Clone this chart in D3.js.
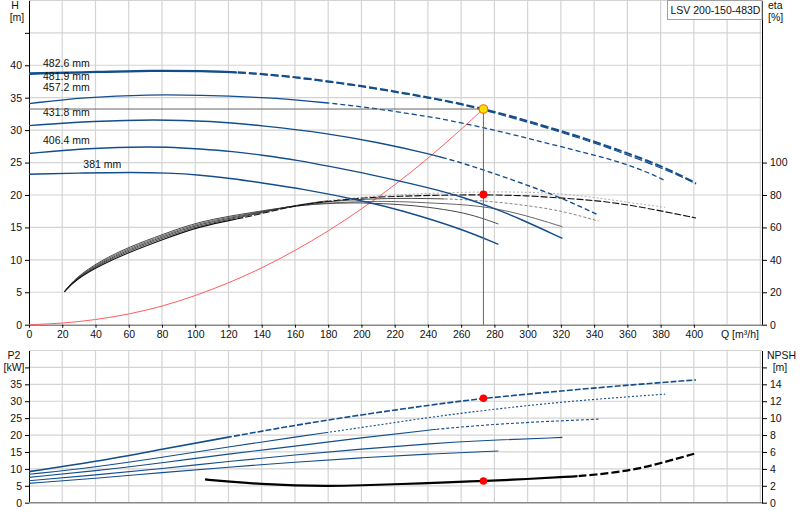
<!DOCTYPE html>
<html>
<head>
<meta charset="utf-8">
<script src="https://cdn.jsdelivr.net/npm/d3@7"></script>
<style>
body { margin: 0; background: #fff; }
text { font-family: "Liberation Sans", Arial, sans-serif; font-size: 10.5px; fill: #111; }
</style>
</head>
<body>
<div id="chart"></div>
<script>
// pump data (Q in m3/h)
var title = "LSV 200-150-483D";
var diameters = ["381 mm", "406.4 mm", "431.8 mm", "457.2 mm", "481.9 mm", "482.6 mm"];
var qTicks = d3.range(0, 401, 20);

// head H [m]
var head381 = [[0,23.2],[33,23.4],[63,23.5],[83,23.4],[103,23.1],[123,22.5],[139,21.9],[163,21.0],[203,19.0],[223,17.7],[259,14.9],[282.4,12.4]];
var head406 = [[0,26.4],[33,27.2],[63,27.4],[83,27.4],[103,27.1],[123,26.7],[139,26.2],[163,25.3],[181,24.4],[203,23.3],[243,21.0],[263,19.5],[277,18.2],[295,16.4],[320.9,13.3]];
var head431 = [[0,30.7],[40,31.4],[75,31.65],[110,31.4],[140,30.7],[180,29.5],[210,28.1],[240,26.4],[260,25.0],[280,23.3],[300,21.5],[320,19.6],[342.6,16.9]];
var head457 = [[0,34.1],[33,35.05],[73,35.5],[103,35.4],[139,35.05],[160,34.7],[180,34.2],[200,33.6],[220,32.9],[240,32.1],[253,31.5],[271.4,30.5],[291.4,29.3],[311.5,28.0],[331.5,26.7],[351.6,25.4],[371.7,23.6],[382.7,22.2]];
var head4819 = [[0,38.6],[43,38.9],[73,39.1],[103,39.05],[139,38.75],[193,37.1],[253,34.4],[273.4,33.15],[311.5,30.4],[351.6,27.1],[391.7,23.0],[401.3,21.7]];
var head482 = [[0,38.75],[43,39.0],[73,39.2],[103,39.15],[139,38.85],[193,37.2],[253,34.5],[273.4,33.25],[291.4,32.1],[311.5,30.5],[331.5,29.0],[351.6,27.2],[371.7,25.4],[391.7,23.1],[401.3,21.8]];

// efficiency eta [%]
var eta381 = [[21.3,20.3],[28,29],[43,39.5],[61,48.3],[80,55.5],[103,64],[133,69],[163,74],[190,75.2],[203,75.1],[223,74.2],[240,72.6],[259,69.6],[271,66.3],[282.4,62.1]];
var eta406 = [[21.3,20.3],[28,28.7],[43,38.8],[61,47.5],[80,54.7],[103,63.2],[133,68.4],[163,74.3],[203,76.2],[223,76],[243,75],[271,73.6],[295,68.7],[320.9,60.4]];
var eta431 = [[21.3,20.3],[28,28.4],[43,38.1],[61,46.7],[80,54],[103,62.5],[133,67.8],[163,74.6],[203,77.9],[240,78],[271,76.9],[303,73.2],[323,69.6],[342.6,63.9]];
var eta457 = [[21.3,20.3],[28,28.1],[43,37.5],[61,45.9],[80,53.2],[103,61.7],[133,67.2],[163,74.8],[203,79],[223,80.2],[245,81.2],[273,82],[300,81.8],[323,80.6],[342,78.3],[362,75.2],[382.7,72.4]];
var eta482 = [[21.3,20.3],[28,27.8],[43,36.8],[61,45],[80,52.3],[103,61],[133,66.5],[163,74.6],[203,78.5],[223,79.2],[245,79.9],[273.4,80.2],[300,79.6],[321.5,78],[341.6,76.6],[361.6,73.8],[381.7,69.9],[401.3,65.8]];

// system curve H [m]
var system = [[0,0],[20,0.2],[40,0.75],[60,1.6],[80,2.8],[100,4.45],[120,6.4],[140,8.7],[160,11.4],[180,14.4],[200,17.8],[220,21.5],[240,25.6],[260,30.1],[273.4,33.3]];

// shaft power P2 [kW]
var p2_381 = [[0,5.7],[40,7.2],[80,8.9],[120,10.5],[160,12.0],[200,13.3],[240,14.4],[282.4,15.3]];
var p2_406 = [[0,6.5],[40,8.2],[80,10.1],[120,12.2],[160,14.1],[200,15.9],[240,17.4],[273.4,18.4],[320.9,19.3]];
var p2_431 = [[0,7.5],[40,9.4],[80,11.8],[120,14.4],[160,16.7],[200,19.2],[240,21.5],[273.4,23.0],[310,24.0],[342.6,24.7]];
var p2_457 = [[0,8.4],[40,10.5],[80,13.4],[120,16.5],[160,19.4],[200,22.2],[240,25.2],[273.4,27.3],[323.5,30.0],[382.7,32.1]];
var p2_482 = [[0,9.2],[40,12.1],[80,15.8],[120,19.4],[160,22.9],[200,26.0],[240,28.8],[273.4,30.9],[323.5,33.2],[363.6,34.9],[401.3,36.3]];

// NPSH [m]
var npsh = [[105.9,2.75],[120,2.5],[140,2.2],[160,2.03],[180,1.97],[200,2.05],[223,2.2],[253,2.42],[273.4,2.57],[300,2.8],[323.5,3.05],[340,3.27],[363.6,3.87],[380,4.66],[401,5.84]];

// duty point
var dutyQ = 273.4, dutyH = 33.25, dutyEta = 80.3, dutyP2 = 30.9, dutyNpsh = 2.57;

var blue = "#134d8b";

var svg = d3.select("#chart").append("svg")
    .attr("width", 800)
    .attr("height", 520);

var x = d3.scaleLinear().domain([0, 441]).range([29, 762]);
var yH = d3.scaleLinear().domain([0, 50]).range([324.7, 0.4]);
var yEta = d3.scaleLinear().domain([0, 200]).range([324.7, 0.4]);
var yP = d3.scaleLinear().domain([0, 45]).range([502.7, 350.5]);
var yN = d3.scaleLinear().domain([0, 18]).range([502.7, 350.5]);

var defs = svg.append("defs");
var clips = {};
function clipId(q, side) {
    var id = "clip-" + side + "-" + String(q).replace(".", "_");
    if (!clips[id]) {
        clips[id] = true;
        var x0 = x(q);
        defs.append("clipPath").attr("id", id).append("rect")
            .attr("x", side == "L" ? 0 : x0)
            .attr("width", side == "L" ? x0 : 800 - x0)
            .attr("y", 0).attr("height", 520);
    }
    return "url(#" + id + ")";
}

// Draw a curve, solid up to dashFrom and dashed after it
function drawCurve(pts, yScale, s) {
    var line = d3.line()
        .x(function(d) { return x(d[0]); })
        .y(function(d) { return yScale(d[1]); })
        .curve(d3.curveBasis);
    var solid = svg.append("path")
        .attr("d", line(pts))
        .style("fill", "none")
        .style("stroke", s.color)
        .style("stroke-width", s.width);
    if (s.dashFrom == null) return;
    solid.attr("clip-path", clipId(s.dashFrom, "L"));
    svg.append("path")
        .attr("d", line(pts))
        .attr("clip-path", clipId(s.dashFrom, "R"))
        .style("fill", "none")
        .style("stroke", s.dashColor || s.color)
        .style("stroke-width", s.dashWidth || s.width)
        .style("stroke-dasharray", s.dash);
}

// Grid
var grid = svg.append("g").style("stroke", "#d4d4d4").style("stroke-width", 1.2);
d3.range(20, 441, 20).forEach(function(q) {
    grid.append("line").attr("x1", x(q)).attr("x2", x(q)).attr("y1", yH(50)).attr("y2", yH(0));
    grid.append("line").attr("x1", x(q)).attr("x2", x(q)).attr("y1", yP(45)).attr("y2", yP(0));
});
d3.range(5, 51, 5).forEach(function(h) {
    grid.append("line").attr("x1", x(0)).attr("x2", x(441)).attr("y1", yH(h)).attr("y2", yH(h));
});
d3.range(5, 46, 5).forEach(function(p) {
    grid.append("line").attr("x1", x(0)).attr("x2", x(441)).attr("y1", yP(p)).attr("y2", yP(p));
});

// Axes
function styleAxis(g) {
    g.selectAll("path.domain").style("stroke", "#000");
    g.selectAll(".tick line").style("stroke", "#000");
    g.selectAll(".tick text").style("font-family", "\"Liberation Sans\", Arial, sans-serif")
        .style("font-size", "10.5px").style("fill", "#111");
}
var hAxis = svg.append("g").attr("transform", "translate(" + x(0) + ",0)")
    .call(d3.axisLeft(yH).tickValues(d3.range(0, 46, 5)).tickSize(4).tickSizeOuter(0)
        .tickFormat(function(d) { return d > 40 ? "" : d; }));
styleAxis(hAxis);
var etaAxis = svg.append("g").attr("transform", "translate(" + x(441) + ",0)")
    .call(d3.axisRight(yEta).tickValues(d3.range(0, 101, 20)).tickSize(5).tickSizeOuter(0));
styleAxis(etaAxis);
var qAxis = svg.append("g").attr("transform", "translate(0," + yH(0) + ")")
    .call(d3.axisBottom(x).tickValues(qTicks).tickSize(3).tickSizeOuter(0));
styleAxis(qAxis);
qAxis.select("path.domain").style("stroke", "#888").style("stroke-width", 1.6);

var pAxis = svg.append("g").attr("transform", "translate(" + x(0) + ",0)")
    .call(d3.axisLeft(yP).tickValues(d3.range(0, 41, 5)).tickSize(4).tickSizeOuter(0)
        .tickFormat(function(d) { return d > 35 ? "" : d; }));
styleAxis(pAxis);
var nAxis = svg.append("g").attr("transform", "translate(" + x(441) + ",0)")
    .call(d3.axisRight(yN).tickValues(d3.range(0, 17, 2)).tickSize(5).tickSizeOuter(0)
        .tickFormat(function(d) { return d > 14 ? "" : d; }));
styleAxis(nAxis);
svg.append("line").attr("x1", x(0)).attr("x2", x(441)).attr("y1", yP(0)).attr("y2", yP(0))
    .style("stroke", "#888").style("stroke-width", 1.6);

// Axis titles
function label(txt, px, py, anchor) {
    svg.append("text").attr("x", px).attr("y", py).attr("dy", "0.35em")
        .style("text-anchor", anchor || "middle").text(txt);
}
label("H", 15, 5);
label("[m]", 17, 17);
label("eta", 768, 5, "start");
label("[%]", 768, 17, "start");
label("Q [m\u00b3/h]", 740, 334.5);
label("P2", 14, 355.7);
label("[kW]", 14, 367);
label("NPSH", 767, 355.7, "start");
label("[m]", 780, 367);

// Title box
svg.append("rect").attr("x", 667.5).attr("y", 0.5).attr("width", 94.5).attr("height", 19)
    .style("fill", "#fff").style("stroke", "#a0a0a0");
svg.append("text").attr("x", 670.5).attr("y", 10).attr("dy", "0.35em").text(title);

// System curve
drawCurve(system, yH, {color: "#ff5c5c", width: 1});

// Efficiency curves
drawCurve(eta381, yEta, {color: "#333", width: 0.9});
drawCurve(eta406, yEta, {color: "#555", width: 0.9});
drawCurve(eta431, yEta, {color: "#333", width: 0.9, dashFrom: 250, dashColor: "#777", dash: "3,2"});
drawCurve(eta457, yEta, {color: "#333", width: 0.9, dashFrom: 180, dashColor: "#a8a8a8", dash: "2,2"});
drawCurve(eta482, yEta, {color: "#111", width: 1.1, dashFrom: 125, dash: "7,2"});

// Head curves
drawCurve(head381, yH, {color: blue, width: 1.4});
drawCurve(head406, yH, {color: blue, width: 1.4});
drawCurve(head431, yH, {color: blue, width: 1.4, dashFrom: 250, dash: "5,3"});
drawCurve(head457, yH, {color: blue, width: 1.3, dashFrom: 180, dash: "5,3"});
drawCurve(head4819, yH, {color: blue, width: 1.2, dashFrom: 125, dash: "8,3"});
drawCurve(head482, yH, {color: blue, width: 2, dashFrom: 125, dash: "8,3"});

// Power curves
drawCurve(p2_381, yP, {color: blue, width: 1.1});
drawCurve(p2_406, yP, {color: blue, width: 1.1});
drawCurve(p2_431, yP, {color: blue, width: 1.1, dashFrom: 245, dash: "3,2"});
drawCurve(p2_457, yP, {color: blue, width: 1.1, dashFrom: 180, dash: "2,2"});
drawCurve(p2_482, yP, {color: blue, width: 1.6, dashFrom: 122, dash: "6,2"});

// NPSH
drawCurve(npsh, yN, {color: "#000", width: 2.2, dashFrom: 330, dash: "8,3"});

// Diameter labels
var labelPos = [[32.7, 24.73], [8.4, 28.37], [8.4, 32.69], [8.4, 36.54], [8.4, 38.24], [8.4, 40.35]];
diameters.forEach(function(d, i) {
    svg.append("text").attr("x", x(labelPos[i][0])).attr("y", yH(labelPos[i][1]))
        .attr("dy", "0.35em").text(d);
});

// Duty point
svg.append("line").attr("x1", x(0)).attr("x2", x(dutyQ)).attr("y1", yH(dutyH)).attr("y2", yH(dutyH))
    .style("stroke", "#666").style("stroke-width", 1);
svg.append("line").attr("x1", x(dutyQ)).attr("x2", x(dutyQ)).attr("y1", yH(dutyH)).attr("y2", yH(0))
    .style("stroke", "#666").style("stroke-width", 1);

svg.append("circle").attr("cx", x(dutyQ)).attr("cy", yEta(dutyEta)).attr("r", 4).style("fill", "#ff0000");
svg.append("circle").attr("cx", x(dutyQ)).attr("cy", yP(dutyP2)).attr("r", 3.8).style("fill", "#ff0000");
svg.append("circle").attr("cx", x(dutyQ)).attr("cy", yN(dutyNpsh)).attr("r", 3.8).style("fill", "#ff0000");
svg.append("circle").attr("cx", x(dutyQ)).attr("cy", yH(dutyH)).attr("r", 4.3)
    .style("fill", "#ffe000").style("stroke", "#ff6a00").style("stroke-width", 1.2);
</script>
</body>
</html>
